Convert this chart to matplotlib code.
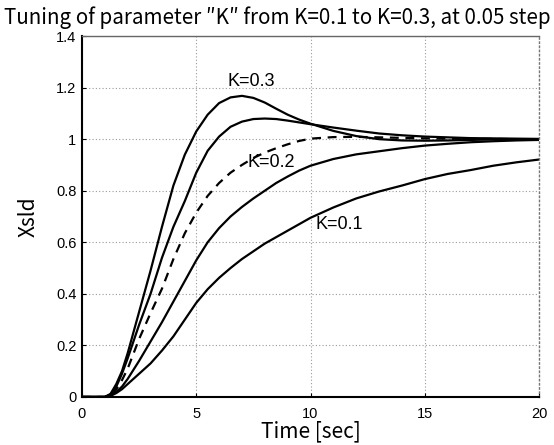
import numpy as np
import matplotlib
matplotlib.use("Agg")
import matplotlib.pyplot as plt

# step responses of Xsld for K = 0.1 ... 0.3 (read at these times)
t = [0, 1, 1.25, 1.5, 1.75, 2, 2.5, 3, 3.5, 4, 4.5, 5, 5.5, 6, 6.5, 7, 7.5, 8,
     8.5, 9, 9.5, 10, 11, 12, 13, 14, 15, 16, 17, 18, 19, 20]

x_k010 = [0, 0, 0.004, 0.015, 0.03, 0.05, 0.09, 0.13, 0.18, 0.235, 0.30, 0.365,
          0.418, 0.462, 0.50, 0.535, 0.565, 0.595, 0.62, 0.645, 0.67, 0.695,
          0.735, 0.77, 0.797, 0.82, 0.845, 0.865, 0.88, 0.897, 0.91, 0.921]
x_k015 = [0, 0, 0.005, 0.02, 0.04, 0.07, 0.14, 0.215, 0.29, 0.37, 0.45, 0.53,
          0.60, 0.655, 0.70, 0.737, 0.77, 0.80, 0.83, 0.855, 0.878, 0.897,
          0.923, 0.941, 0.953, 0.965, 0.975, 0.982, 0.988, 0.992, 0.995, 0.997]
x_k020 = [0, 0, 0.008, 0.03, 0.065, 0.11, 0.225, 0.325, 0.42, 0.535, 0.635,
          0.715, 0.78, 0.83, 0.87, 0.90, 0.927, 0.948, 0.965, 0.98, 0.993,
          1.002, 1.008, 1.009, 1.007, 1.005, 1.003, 1.002, 1.001, 1.001, 1.0, 1.0]
x_k025 = [0, 0, 0.01, 0.04, 0.09, 0.15, 0.28, 0.40, 0.54, 0.66, 0.76, 0.87,
          0.955, 1.01, 1.048, 1.068, 1.078, 1.08, 1.078, 1.072, 1.065, 1.058,
          1.045, 1.033, 1.022, 1.015, 1.01, 1.007, 1.004, 1.003, 1.002, 1.001]
x_k030 = [0, 0, 0.012, 0.05, 0.10, 0.17, 0.33, 0.49, 0.66, 0.82, 0.94, 1.03,
          1.095, 1.14, 1.162, 1.168, 1.16, 1.142, 1.118, 1.095, 1.076, 1.06,
          1.032, 1.012, 1.0, 0.995, 0.994, 0.995, 0.997, 0.999, 1.0, 1.0]

xticks = [0, 5, 10, 15, 20]
yticks = [0, 0.2, 0.4, 0.6, 0.8, 1.0, 1.2, 1.4]
ytick_labels = ["0", "0.2", "0.4", "0.6", "0.8", "1", "1.2", "1.4"]

jp = ["Noto Sans CJK JP", "DejaVu Sans"]
narrow = ["Liberation Sans Narrow", "Liberation Sans", "DejaVu Sans"]
sans = ["Liberation Sans", "DejaVu Sans"]

fig = plt.figure(figsize=(5.54, 4.45), dpi=100)
ax = fig.add_axes([0.148, 0.108, 0.825, 0.811])

lw = 1.6
ax.plot(t, x_k010, color="black", lw=lw)
ax.plot(t, x_k015, color="black", lw=lw)
ax.plot(t, x_k020, color="black", lw=lw, linestyle=(0, (4, 3)))
ax.plot(t, x_k025, color="black", lw=lw)
ax.plot(t, x_k030, color="black", lw=lw)

ax.text(7.4, 1.225, "K=0.3", fontsize=13, family=sans, ha="center", va="center")
ax.text(7.25, 0.91, "K=0.2", fontsize=13, family=sans, ha="left", va="center")
ax.text(10.2, 0.67, "K=0.1", fontsize=13, family=sans, ha="left", va="center")

ax.set_xlim(0, 20)
ax.set_ylim(0, 1.4)
ax.set_xticks(xticks)
ax.set_yticks(yticks)
ax.set_yticklabels(ytick_labels)
for lab in ax.get_xticklabels() + ax.get_yticklabels():
    lab.set_family(narrow)
    lab.set_fontsize(10.5)
ax.tick_params(direction="in", length=3, width=0.8, pad=4)
ax.tick_params(axis="x", pad=7)

ax.grid(True, color="#9a9a9a", linestyle=(0, (1, 2)), linewidth=0.8)
ax.spines["left"].set_linewidth(1.5)
ax.spines["bottom"].set_linewidth(1.5)
ax.spines["top"].set_color("#666666")
ax.spines["top"].set_linestyle((0, (6, 1)))
ax.spines["top"].set_linewidth(1.0)
ax.spines["right"].set_color("#777777")
ax.spines["right"].set_linestyle((0, (1, 2)))
ax.spines["right"].set_linewidth(1.0)

ax.set_xlabel("Time [sec]", fontsize=15, family=jp, labelpad=0)
ax.set_ylabel("Xsld", fontsize=15, family=jp, labelpad=12)

fig.text(0.008, 0.985, "Tuning of parameter \u2033K\u2033 from K=0.1 to K=0.3, at 0.05 step",
         fontsize=14.8, family=jp, ha="left", va="top")

fig.savefig("out.png", dpi=100)
